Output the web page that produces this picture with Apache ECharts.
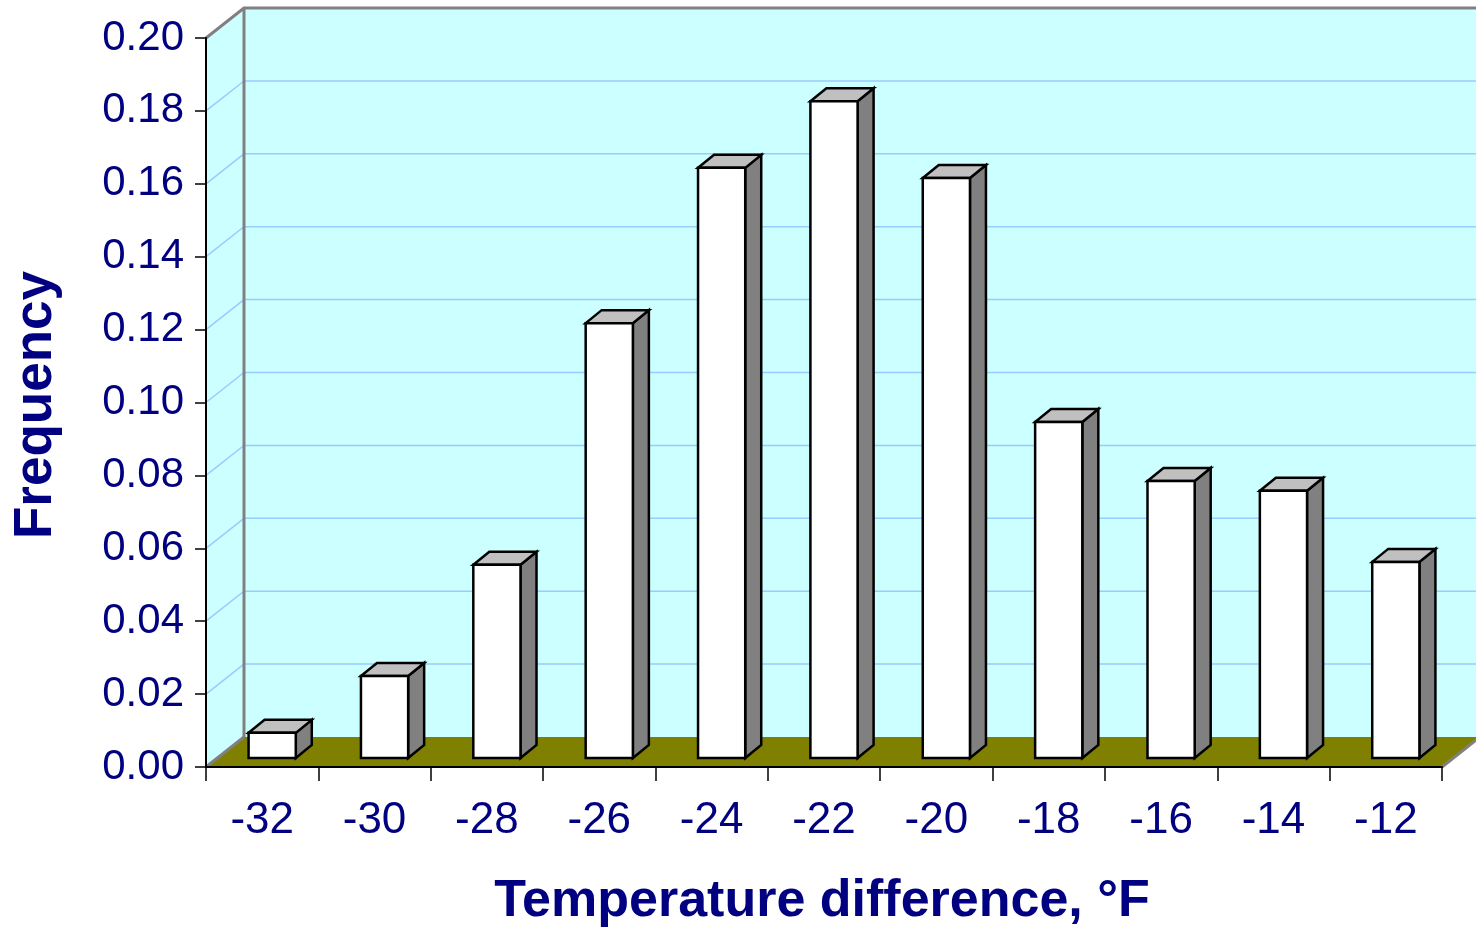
<!DOCTYPE html>
<html>
<head>
<meta charset="utf-8">
<script src="https://cdn.jsdelivr.net/npm/echarts@6/dist/echarts.min.js"></script>
<style>
html,body{margin:0;padding:0;background:#fff;}
#chart{width:1476px;height:930px;}
</style>
</head>
<body>
<div id="chart"></div>
<script>
// ---- data ----
const categories = ['-32','-30','-28','-26','-24','-22','-20','-18','-16','-14','-12'];
const frequency = [0.0069, 0.0225, 0.053, 0.1193, 0.1619, 0.1802, 0.1591, 0.0922, 0.076, 0.0733, 0.0538];
const gridValues = [0.02, 0.04, 0.06, 0.08, 0.10, 0.12, 0.14, 0.16, 0.18];
const yMin = 0, yMax = 0.20, yStep = 0.02;
const xTitle = 'Temperature difference, °F';
const yTitle = 'Frequency';

// ---- 3D style constants ----
const DEPTH_DX = 38, DEPTH_DY = -30;       // wall depth
const BAR_FRONT_DX = 10, BAR_FRONT_DY = -9; // bar front plane offset
const BAR_DX = 16, BAR_DY = -13;            // bar depth
const BAR_RATIO = 0.42;

const chart = echarts.init(document.getElementById('chart'));

function renderWalls(params, api) {
  const cs = params.coordSys;
  const L = cs.x, R = cs.x + cs.width;
  const B = api.coord([0, yMin])[1];
  const T = api.coord([0, yMax])[1];
  const children = [];
  children.push({type:'polygon', shape:{points:[[L,T],[L+DEPTH_DX,T+DEPTH_DY],[L+DEPTH_DX,B+DEPTH_DY],[L,B]]},
    style:{fill:'#CCFFFF', stroke:null}});
  children.push({type:'polygon', shape:{points:[[L+DEPTH_DX,T+DEPTH_DY],[R+DEPTH_DX,T+DEPTH_DY],[R+DEPTH_DX,B+DEPTH_DY],[L+DEPTH_DX,B+DEPTH_DY]]},
    style:{fill:'#CCFFFF', stroke:null}});
  gridValues.forEach(v => {
    const y = api.coord([0, v])[1];
    children.push({type:'polyline', shape:{points:[[L,y],[L+DEPTH_DX,y+DEPTH_DY],[R+DEPTH_DX,y+DEPTH_DY]]},
      style:{stroke:'#99CCFF', lineWidth:1.5, fill:null}});
  });
  children.push({type:'polygon', shape:{points:[[L,B],[L+DEPTH_DX,B+DEPTH_DY],[R+DEPTH_DX,B+DEPTH_DY],[R,B]]},
    style:{fill:'#808000', stroke:null}});
  children.push({type:'line', shape:{x1:L,y1:B,x2:L+DEPTH_DX,y2:B+DEPTH_DY}, style:{stroke:'#808080', lineWidth:3}});
  children.push({type:'line', shape:{x1:R,y1:B,x2:R+DEPTH_DX,y2:B+DEPTH_DY}, style:{stroke:'#808080', lineWidth:3}});
  children.push({type:'polyline', shape:{points:[[L,T],[L+DEPTH_DX,T+DEPTH_DY],[R+DEPTH_DX+5,T+DEPTH_DY]]},
    style:{stroke:'#808080', lineWidth:3, fill:null}});
  children.push({type:'line', shape:{x1:L+DEPTH_DX,y1:T+DEPTH_DY,x2:L+DEPTH_DX,y2:B+DEPTH_DY}, style:{stroke:'#808080', lineWidth:3}});
  return {type:'group', children};
}

function renderBar(params, api) {
  const idx = api.value(0);
  const val = api.value(1);
  const base = api.coord([idx, 0]);
  const top = api.coord([idx, val]);
  const bw = api.size([1, 0])[0] * BAR_RATIO;
  const x0 = base[0] - bw / 2 + BAR_FRONT_DX;
  const x1 = x0 + bw;
  const yb = base[1] + BAR_FRONT_DY;
  const yt = top[1] + BAR_FRONT_DY;
  const st = {stroke:'#000', lineWidth:2.5, lineJoin:'miter'};
  return {type:'group', children:[
    {type:'polygon', shape:{points:[[x1,yt],[x1+BAR_DX,yt+BAR_DY],[x1+BAR_DX,yb+BAR_DY],[x1,yb]]},
      style:Object.assign({fill:'#808080'}, st)},
    {type:'polygon', shape:{points:[[x0,yt],[x1,yt],[x1+BAR_DX,yt+BAR_DY],[x0+BAR_DX,yt+BAR_DY]]},
      style:Object.assign({fill:'#C0C0C0'}, st)},
    {type:'rect', shape:{x:x0, y:yt, width:bw, height:yb-yt},
      style:Object.assign({fill:'#FFFFFF'}, st)}
  ]};
}

const fontFam = 'Liberation Sans, Arial, sans-serif';

chart.setOption({
  animation:false,
  backgroundColor:'#ffffff',
  grid:{left:206, top:38, width:1236, height:729, containLabel:false, outerBoundsMode:'none'},
  xAxis:{
    type:'category', data:categories, boundaryGap:true, z:10,
    axisLine:{show:true, lineStyle:{color:'#000', width:2}},
    axisTick:{show:true, interval:0, length:14, lineStyle:{color:'#000', width:1.5}},
    axisLabel:{interval:0, margin:32, fontFamily:fontFam, fontSize:44, color:'#000080'},
    splitLine:{show:false}
  },
  yAxis:{
    type:'value', min:yMin, max:yMax, interval:yStep, z:10,
    axisLine:{show:true, lineStyle:{color:'#000', width:2}},
    axisTick:{show:true, length:11, lineStyle:{color:'#000', width:1.5}},
    axisLabel:{margin:22, fontFamily:fontFam, fontSize:42, color:'#000080', formatter:v => v.toFixed(2)},
    splitLine:{show:false}
  },
  graphic:[
    {type:'text', x:822, y:902, style:{text:xTitle, fontFamily:fontFam, fontWeight:'bold', fontSize:52, fill:'#000080', textAlign:'center', textVerticalAlign:'middle'}},
    {type:'text', x:36, y:405, rotation:Math.PI/2, style:{text:yTitle, fontFamily:fontFam, fontWeight:'bold', fontSize:53, fill:'#000080', textAlign:'center', textVerticalAlign:'middle'}}
  ],
  series:[
    {type:'custom', name:'walls', z:1, clip:false, silent:true, data:[[0,0]], renderItem:renderWalls},
    {type:'custom', name:'Frequency', z:3, clip:false, data:frequency.map((v,i)=>[i,v]), renderItem:renderBar,
      encode:{x:0, y:1}}
  ]
});
</script>
</body>
</html>
